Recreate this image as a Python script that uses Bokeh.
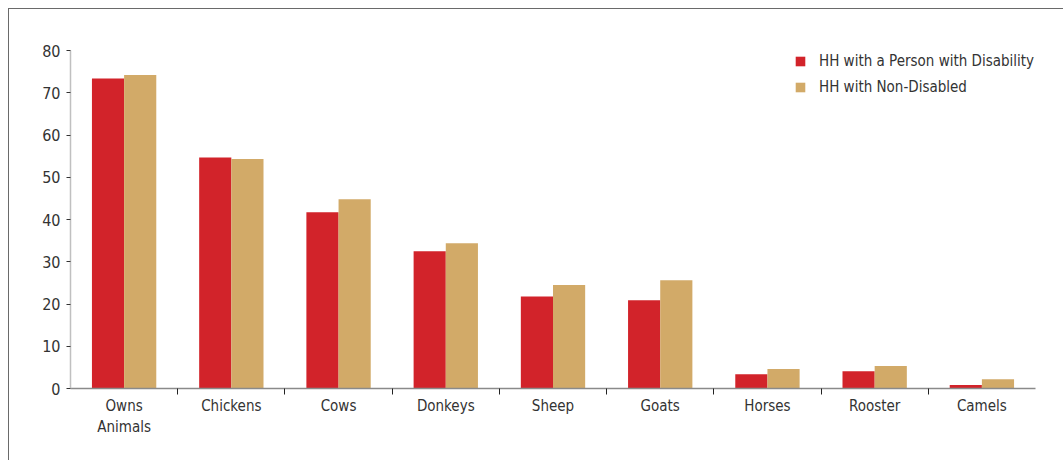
import numpy as np
from bokeh.plotting import figure
from bokeh.models import ColumnDataSource, FixedTicker, Legend, LegendItem
from bokeh.transform import dodge
from bokeh.embed import file_html
from bokeh.resources import INLINE

categories = ["Owns Animals", "Chickens", "Cows", "Donkeys", "Sheep", "Goats", "Horses", "Rooster", "Camels"]
tick_labels = ["Owns\nAnimals", "Chickens", "Cows", "Donkeys", "Sheep", "Goats", "Horses", "Rooster", "Camels"]
disabled = [73.4, 54.7, 41.7, 32.5, 21.8, 20.9, 3.4, 4.1, 0.8]
non_disabled = [74.2, 54.3, 44.8, 34.4, 24.5, 25.6, 4.6, 5.3, 2.2]
series_names = ["HH with a Person with Disability", "HH with Non-Disabled"]
y_ticks = [0, 10, 20, 30, 40, 50, 60, 70, 80]

FONT = "DejaVu Sans Condensed"
RED = "#D2232A"
TAN = "#D2AA68"

n = len(categories)
centers = np.arange(n) + 0.5
src = ColumnDataSource(dict(x=centers, dis=disabled, non=non_disabled))

p = figure(width=1055, height=452, x_range=(0, n), y_range=(0, 80),
           output_backend="svg", toolbar_location=None,
           min_border_left=61, min_border_right=29, min_border_top=41, min_border_bottom=73)
p.styles = {"margin-left": "8px", "margin-top": "8px",
            "border-top": "1px solid #6a6a6a", "border-left": "1px solid #6a6a6a"}
p.outline_line_color = None
p.xgrid.grid_line_color = None
p.ygrid.grid_line_color = None

r1 = p.vbar(x=dodge("x", -0.15), top="dis", width=0.3, source=src, color=RED, line_color=None)
r2 = p.vbar(x=dodge("x", 0.15), top="non", width=0.3, source=src, color=TAN, line_color=None)

# x axis
xa = p.xaxis[0]
xa.ticker = FixedTicker(ticks=list(centers), minor_ticks=list(range(1, n)))
xa.major_label_overrides = {float(c): lab for c, lab in zip(centers, tick_labels)}
xa.major_tick_line_color = None
xa.major_tick_out = 0
xa.major_tick_in = 0
xa.minor_tick_line_color = "#222222"
xa.minor_tick_out = 6
xa.minor_tick_in = 0
xa.axis_line_color = "#8a8a8a"
xa.axis_line_width = 1.5
xa.major_label_text_font = FONT
xa.major_label_text_font_size = "15px"
xa.major_label_text_color = "#333333"
xa.major_label_standoff = 2

# y axis
ya = p.yaxis[0]
ya.ticker = FixedTicker(ticks=y_ticks)
ya.axis_line_color = "#c0c0c0"
ya.axis_line_width = 1.5
ya.major_tick_line_color = "#333333"
ya.major_tick_out = 4
ya.major_tick_in = 0
ya.minor_tick_line_color = None
ya.major_label_text_font = FONT
ya.major_label_text_font_size = "16px"
ya.major_label_text_color = "#333333"
ya.major_label_standoff = 6

legend = Legend(items=[LegendItem(label=series_names[0], renderers=[r1]),
                       LegendItem(label=series_names[1], renderers=[r2])],
                location=(724, 292), orientation="vertical")
legend.glyph_width = 12
legend.glyph_height = 12
legend.label_standoff = 13
legend.spacing = 8
legend.padding = 0
legend.margin = 0
legend.border_line_color = None
legend.background_fill_alpha = 0
legend.label_text_font = FONT
legend.label_text_font_size = "15px"
legend.label_text_color = "#333333"
p.add_layout(legend, "center")

open("out.html", "w").write(file_html(p, INLINE))
